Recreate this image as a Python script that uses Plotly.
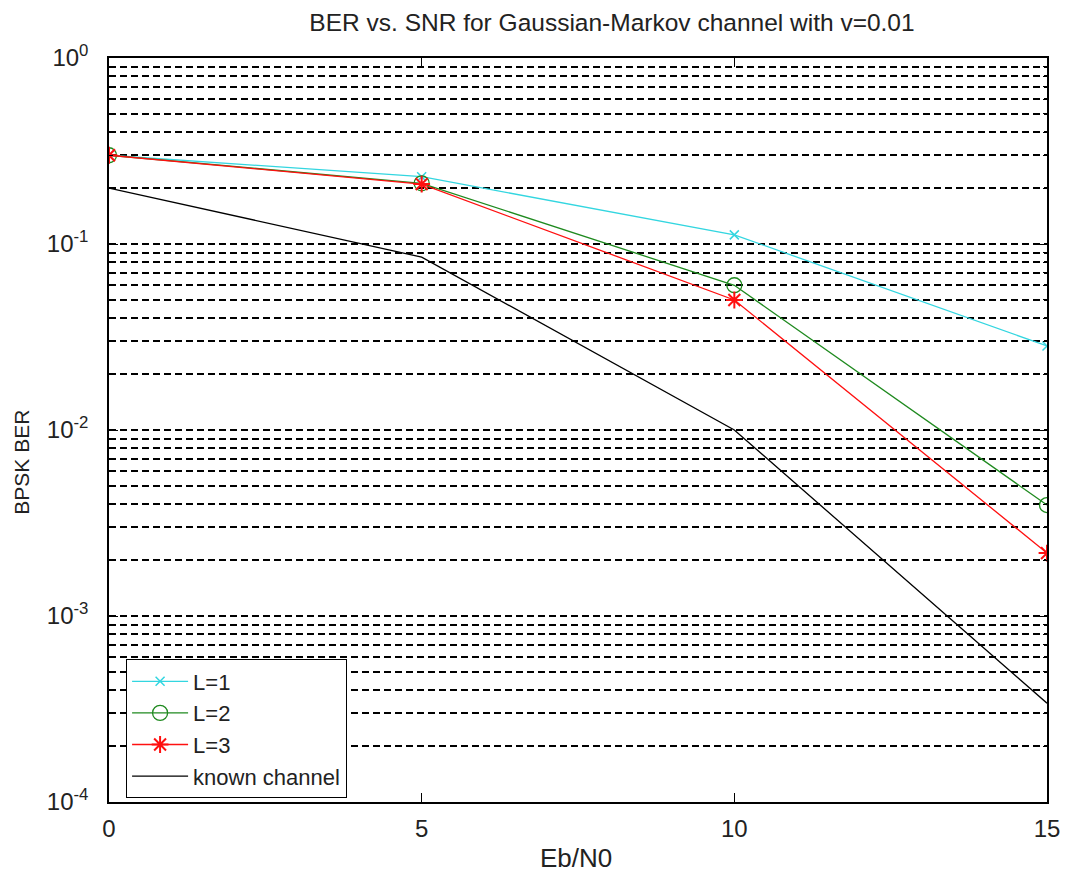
import plotly.graph_objects as go

# ---- data ----
ebn0 = [0, 5, 10, 15]
ber_L1 = [0.30, 0.23, 0.112, 0.0283]
ber_L2 = [0.30, 0.212, 0.060, 0.00395]
ber_L3 = [0.30, 0.210, 0.050, 0.00218]
ber_known = [0.20, 0.085, 0.0100, 0.00034]

decades = [1e-4, 1e-3, 1e-2, 1e-1, 1e0]
decade_labels = ["10<sup>-4</sup>", "10<sup>-3</sup>", "10<sup>-2</sup>", "10<sup>-1</sup>", "10<sup>0</sup>"]
minor_vals = [m * d for d in [1e-4, 1e-3, 1e-2, 1e-1] for m in range(2, 10)]
x_ticks = [0, 5, 10, 15]

FONT = "Liberation Sans, Arial, sans-serif"

fig = go.Figure()
fig.add_trace(go.Scatter(x=ebn0, y=ber_L1, name="L=1", mode="lines+markers",
                         line=dict(color="#33d6e0", width=1.3),
                         marker=dict(symbol="x-thin-open", size=9, line=dict(color="#33d6e0", width=1.5))))
fig.add_trace(go.Scatter(x=ebn0, y=ber_L2, name="L=2", mode="lines+markers",
                         line=dict(color="#1f8a1f", width=1.3),
                         marker=dict(symbol="circle-open", size=15, line=dict(color="#1f8a1f", width=1.3))))
fig.add_trace(go.Scatter(x=ebn0, y=ber_L3, name="L=3", mode="lines+markers",
                         line=dict(color="#ff1010", width=1.3),
                         marker=dict(symbol="asterisk-open", size=14, line=dict(color="#ff1010", width=2))))
fig.add_trace(go.Scatter(x=ebn0, y=ber_known, name="known channel", mode="lines",
                         line=dict(color="black", width=1.3)))

fig.update_layout(
    width=1072, height=877,
    margin=dict(l=109, r=18, t=58, b=75),
    paper_bgcolor="white", plot_bgcolor="white",
    font=dict(family=FONT, color="black", size=21),
    title=dict(text="BER vs. SNR for Gaussian-Markov channel with v=0.01",
               x=612 / 1072, xanchor="center", xref="container",
               y=1 - 22 / 877, yanchor="middle", yref="container",
               font=dict(size=24.5, family=FONT, color="#222")),
    showlegend=True,
    legend=dict(x=0.018, y=0.005, xanchor="left", yanchor="bottom",
                bgcolor="white", bordercolor="black", borderwidth=1.2,
                font=dict(size=22, family=FONT, color="#222"),
                itemwidth=56),
)

fig.update_xaxes(
    range=[0, 15], tickvals=x_ticks, ticktext=[str(v) for v in x_ticks],
    showgrid=False, zeroline=False,
    showline=True, linecolor="black", linewidth=1.5, mirror="ticks",
    ticks="inside", ticklen=9, tickcolor="black", tickwidth=1.2,
    ticklabelstandoff=4,
    tickfont=dict(size=24, color="#222"),
)

fig.update_yaxes(
    type="log", range=[-4, 0],
    tickvals=decades, ticktext=decade_labels,
    showgrid=True, gridcolor="black", gridwidth=1.5, griddash="7px,4px",
    zeroline=False,
    showline=True, linecolor="black", linewidth=1.5, mirror="ticks",
    ticks="inside", ticklen=9, tickcolor="black", tickwidth=1.2,
    ticklabelstandoff=14,
    tickfont=dict(size=24, color="#222"),
    minor=dict(tickvals=minor_vals, showgrid=True, gridcolor="black", gridwidth=1.5,
               griddash="7px,4px", ticks="inside", ticklen=4, tickcolor="black"),
)

fig.add_annotation(text="Eb/N0", xref="paper", yref="paper",
                   x=(579 - 109) / 945, y=-(858 - 802) / 744,
                   xanchor="center", yanchor="middle", showarrow=False,
                   font=dict(size=26, family=FONT, color="#222"))
fig.add_annotation(text="BPSK BER", xref="paper", yref="paper",
                   x=-(109 - 20) / 945, y=(802 - 462) / 744, textangle=-90,
                   xanchor="center", yanchor="middle", showarrow=False,
                   font=dict(size=21, family=FONT, color="#222"))

fig.write_html("out.html")
